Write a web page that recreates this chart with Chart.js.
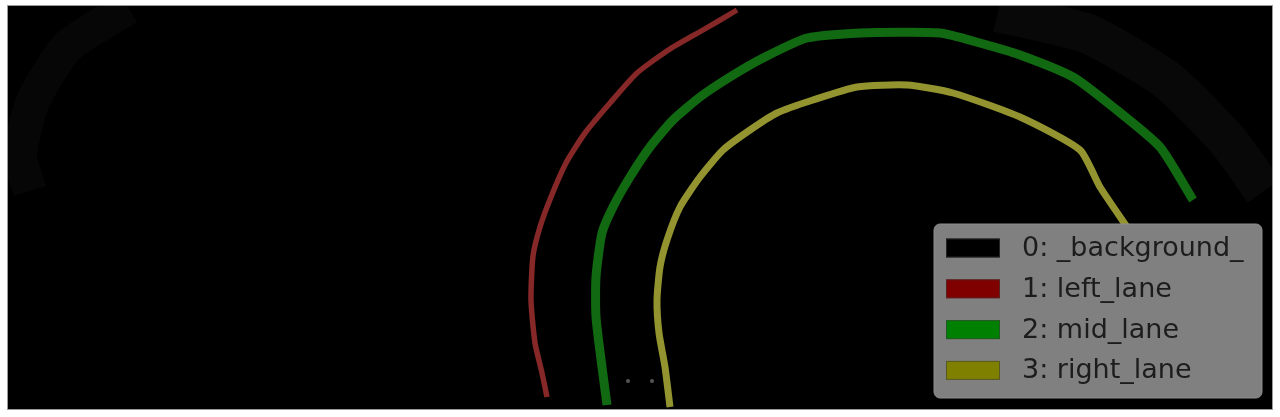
<!DOCTYPE html>
<html>
<head>
<meta charset="utf-8">
<script src="https://cdn.jsdelivr.net/npm/chart.js@4.4.1/dist/chart.umd.min.js"></script>
<style>
  html, body { margin: 0; padding: 0; background: #ffffff; }
  #wrap { width: 1280px; height: 417px; position: relative; }
</style>
</head>
<body>
<div id="wrap"><canvas id="laneChart"></canvas></div>
<script>
// Image size (pixels of the mask)
const imgWidth = 1264;
const imgHeight = 403;

// Class labels / palette
const classLabels = ['0: _background_', '1: left_lane', '2: mid_lane', '3: right_lane'];
const classColors = ['#000000', '#800000', '#008000', '#808000'];

// Lane traces, image pixel coords (x to the right, y downwards)
const leftLaneX = [729, 695, 662, 629, 602, 577, 558, 543, 532, 525, 523, 527, 534, 539];
const leftLaneY = [4, 24, 43, 67, 97, 127, 157, 191, 221, 250, 294, 337, 367, 391];

const midLaneX = [599, 594, 588, 588, 594, 605, 622, 642, 665, 692, 722, 755, 799, 852, 932, 972, 1012, 1065, 1105, 1152, 1185];
const midLaneY = [399, 361, 311, 271, 227, 201, 171, 141, 114, 91, 71, 52, 32, 27, 27, 37, 49, 71, 101, 141, 194];

const rightLaneX = [662, 657, 651, 649, 652, 659, 672, 692, 715, 742, 769, 805, 849, 899, 945, 1012, 1072, 1092, 1119];
const rightLaneY = [401, 361, 327, 294, 261, 234, 201, 171, 144, 124, 107, 94, 81, 79, 87, 111, 144, 181, 221];

// faint glare streaks in the source image
const glareRightX = [990, 1080, 1160, 1220, 1256];
const glareRightY = [6, 28, 75, 135, 185];
const glareLeftX = [120, 60, 25, 12, 22];
const glareLeftY = [2, 40, 95, 150, 185];
const speckX = [620, 644];
const speckY = [375, 375];

const toPoints = (xs, ys) => xs.map((x, i) => ({ x: x, y: ys[i] }));

// draws the black image area + frame
const imageBackdrop = {
    id: 'imageBackdrop',
    beforeDraw(chart) {
        const { ctx, chartArea } = chart;
        ctx.save();
        ctx.fillStyle = '#000000';
        ctx.fillRect(chartArea.left, chartArea.top, chartArea.width, chartArea.height);
        ctx.restore();
    },
    afterDraw(chart) {
        const { ctx, chartArea } = chart;
        ctx.save();
        ctx.strokeStyle = '#9a9a9a';
        ctx.lineWidth = 1;
        ctx.strokeRect(chartArea.left - 0.5, chartArea.top - 0.5, chartArea.width + 1, chartArea.height + 1);
        ctx.restore();
    }
};

// legend box in the lower right corner, like matplotlib's
const classLegend = {
    id: 'classLegend',
    afterDraw(chart) {
        const { ctx, chartArea } = chart;
        const boxW = 328, boxH = 174;
        const x0 = chartArea.right - 10 - boxW;
        const y0 = chartArea.bottom - 11 - boxH;
        ctx.save();
        ctx.beginPath();
        ctx.roundRect(x0, y0, boxW, boxH, 6);
        ctx.fillStyle = '#808080';
        ctx.fill();
        ctx.strokeStyle = '#8c8c8c';
        ctx.lineWidth = 1;
        ctx.stroke();

        ctx.font = '27px "DejaVu Sans", sans-serif';
        ctx.textBaseline = 'middle';
        classLabels.forEach((label, i) => {
            const cy = y0 + 24 + i * 40.8;
            ctx.fillStyle = classColors[i];
            ctx.fillRect(x0 + 12, cy - 9.5, 54, 19);
            ctx.strokeStyle = 'rgba(60,60,60,0.6)';
            ctx.strokeRect(x0 + 12.5, cy - 9, 53, 18);
            ctx.fillStyle = '#1c1c1c';
            ctx.fillText(label, x0 + 88, cy + 1);
        });
        ctx.restore();
    }
};

const laneDataset = (label, xs, ys, color, width) => ({
    label: label,
    data: toPoints(xs, ys),
    showLine: true,
    borderColor: color,
    borderWidth: width,
    pointRadius: 0,
    tension: 0.2,
    borderCapStyle: 'butt',
    borderJoinStyle: 'round',
});

new Chart(document.getElementById('laneChart'), {
    type: 'scatter',
    data: {
        datasets: [
            laneDataset('glare', glareRightX, glareRightY, 'rgba(255,255,255,0.03)', 40),
            laneDataset('glare', glareLeftX, glareLeftY, 'rgba(255,255,255,0.025)', 34),
            laneDataset(classLabels[1], leftLaneX, leftLaneY, '#862828', 5.5),
            laneDataset(classLabels[2], midLaneX, midLaneY, '#116a11', 9),
            laneDataset(classLabels[3], rightLaneX, rightLaneY, '#939330', 7),
            {
                label: 'specks',
                data: toPoints(speckX, speckY),
                pointRadius: 2,
                pointBackgroundColor: '#555555',
                pointBorderWidth: 0,
            },
        ]
    },
    options: {
        responsive: true,
        maintainAspectRatio: false,
        animation: false,
        layout: {
            padding: { left: 8, right: 8, top: 6, bottom: 8 }
        },
        plugins: {
            legend: { display: false },
            tooltip: { enabled: false },
        },
        scales: {
            x: {
                type: 'linear',
                display: false,
                min: 0,
                max: imgWidth,
            },
            y: {
                type: 'linear',
                display: false,
                reverse: true,
                min: 0,
                max: imgHeight,
            }
        }
    },
    plugins: [imageBackdrop, classLegend]
});
</script>
</body>
</html>
